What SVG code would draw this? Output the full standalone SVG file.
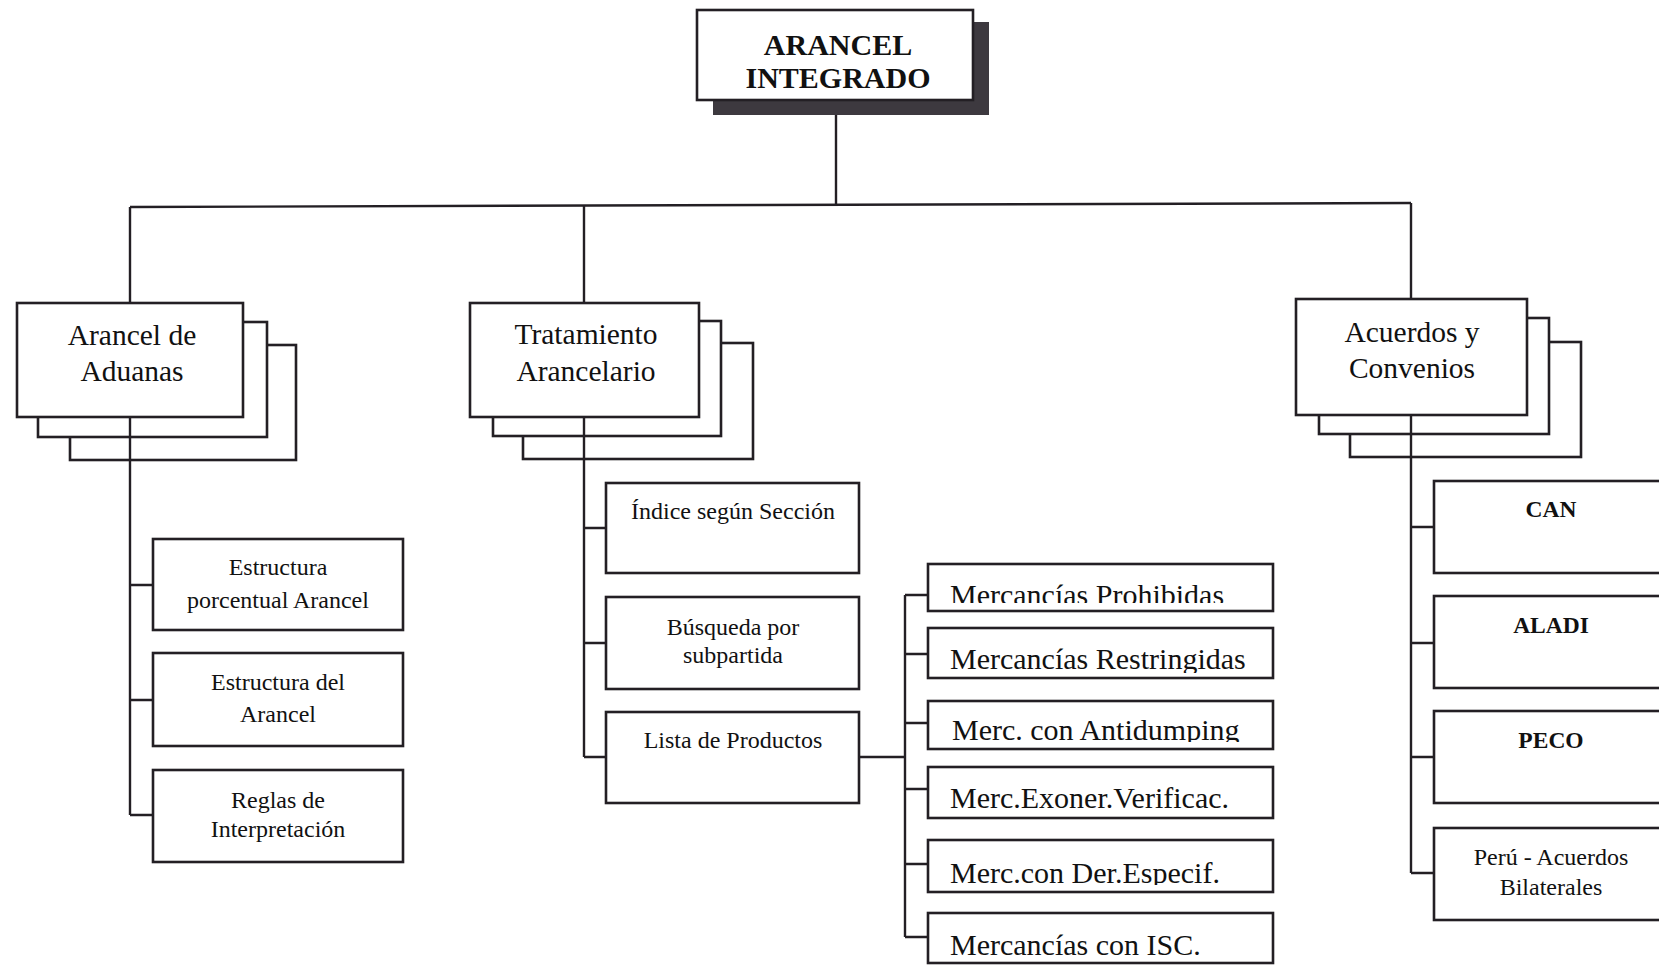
<svg xmlns="http://www.w3.org/2000/svg" width="1659" height="965" viewBox="0 0 1659 965">
<style>
.box{fill:#fff;stroke:#231f24;stroke-width:2.6}
.ln{fill:none;stroke:#231f24;stroke-width:2.4}
.t1{font-family:"Liberation Serif","Times New Roman",serif;font-size:29.5px;fill:#111;text-anchor:middle}
.t2{font-family:"Liberation Serif","Times New Roman",serif;font-size:24px;fill:#111;text-anchor:middle}
.t2b{font-family:"Liberation Serif","Times New Roman",serif;font-size:23.5px;font-weight:bold;fill:#111;text-anchor:middle}
.tm{font-family:"Liberation Serif","Times New Roman",serif;font-size:30px;fill:#111}
.tt{font-family:"Liberation Serif","Times New Roman",serif;font-size:30px;font-weight:bold;fill:#111;text-anchor:middle}
</style>
<defs>
<clipPath id="c1"><rect x="928" y="564" width="345" height="39"/></clipPath>
<clipPath id="c2"><rect x="928" y="628" width="345" height="45"/></clipPath>
<clipPath id="c3"><rect x="928" y="701" width="345" height="41"/></clipPath>
<clipPath id="c5"><rect x="928" y="840" width="345" height="45"/></clipPath>
</defs>
<rect width="1659" height="965" fill="#fff"/>

<g id="connectors">
<path class="ln" d="M836 100 V205"/>
<path class="ln" d="M130 207 L1411 203"/>
<path class="ln" d="M130 207 V303 M130 417 V815 M130 585 H153 M130 700 H153 M130 815 H153"/>
<path class="ln" d="M584 206 V303 M584 417 V757 M584 528 H606 M584 643 H606 M584 757 H606"/>
<path class="ln" d="M859 757 H905 M905 595 V937 M905 595 H928 M905 654 H928 M905 723 H928 M905 789 H928 M905 864 H928 M905 937 H928"/>
<path class="ln" d="M1411 203 V299 M1411 415 V873 M1411 527 H1434 M1411 643 H1434 M1411 757 H1434 M1411 873 H1434"/>
</g>

<g id="arancel-integrado">
<rect x="713" y="22" width="276" height="93" fill="#3d393f"/>
<rect class="box" x="697" y="10" width="276" height="90"/>
<text class="tt" x="838" y="55">ARANCEL</text>
<text class="tt" x="838" y="88">INTEGRADO</text>
</g>

<g id="arancel-aduanas">
<rect class="box" x="70" y="345" width="226" height="115"/>
<rect class="box" x="38" y="322" width="229" height="115"/>
<rect class="box" x="17" y="303" width="226" height="114"/>
<text class="t1" x="132" y="345">Arancel de</text>
<text class="t1" x="132" y="381">Aduanas</text>
</g>
<path class="ln" d="M130 417 V460"/>

<g id="tratamiento">
<rect class="box" x="523" y="343" width="230" height="116"/>
<rect class="box" x="493" y="321" width="228" height="115"/>
<rect class="box" x="470" y="303" width="229" height="114"/>
<text class="t1" x="586" y="344">Tratamiento</text>
<text class="t1" x="586" y="381">Arancelario</text>
</g>
<path class="ln" d="M584 417 V460"/>

<g id="acuerdos">
<rect class="box" x="1350" y="342" width="231" height="115"/>
<rect class="box" x="1319" y="318" width="230" height="116"/>
<rect class="box" x="1296" y="299" width="231" height="116"/>
<text class="t1" x="1412" y="342">Acuerdos y</text>
<text class="t1" x="1412" y="378">Convenios</text>
</g>
<path class="ln" d="M1411 415 V458"/>

<g id="estructura-porcentual">
<rect class="box" x="153" y="539" width="250" height="91"/>
<text class="t2" x="278" y="575">Estructura</text>
<text class="t2" x="278" y="608">porcentual Arancel</text>
</g>
<g id="estructura-arancel">
<rect class="box" x="153" y="653" width="250" height="93"/>
<text class="t2" x="278" y="690">Estructura del</text>
<text class="t2" x="278" y="722">Arancel</text>
</g>
<g id="reglas">
<rect class="box" x="153" y="770" width="250" height="92"/>
<text class="t2" x="278" y="808">Reglas de</text>
<text class="t2" x="278" y="837">Interpretación</text>
</g>

<g id="indice">
<rect class="box" x="606" y="483" width="253" height="90"/>
<text class="t2" x="733" y="519">Índice según Sección</text>
</g>
<g id="busqueda">
<rect class="box" x="606" y="597" width="253" height="92"/>
<text class="t2" x="733" y="635">Búsqueda por</text>
<text class="t2" x="733" y="663">subpartida</text>
</g>
<g id="lista">
<rect class="box" x="606" y="712" width="253" height="91"/>
<text class="t2" x="733" y="748">Lista de Productos</text>
</g>

<g id="merc-prohibidas">
<rect class="box" x="928" y="564" width="345" height="47"/>
<text class="tm" x="950" y="605" clip-path="url(#c1)">Mercancías Prohibidas</text>
</g>
<g id="merc-restringidas">
<rect class="box" x="928" y="628" width="345" height="50"/>
<text class="tm" x="950" y="669" clip-path="url(#c2)">Mercancías Restringidas</text>
</g>
<g id="merc-antidumping">
<rect class="box" x="928" y="701" width="345" height="48"/>
<text class="tm" x="952" y="740" clip-path="url(#c3)">Merc. con Antidumping</text>
</g>
<g id="merc-exoner">
<rect class="box" x="928" y="767" width="345" height="51"/>
<text class="tm" x="950" y="808">Merc.Exoner.Verificac.</text>
</g>
<g id="merc-der">
<rect class="box" x="928" y="840" width="345" height="52"/>
<text class="tm" x="950" y="883" clip-path="url(#c5)">Merc.con Der.Especif.</text>
</g>
<g id="merc-isc">
<rect class="box" x="928" y="913" width="345" height="50"/>
<text class="tm" x="950" y="955">Mercancías con ISC.</text>
</g>

<g id="can">
<rect class="box" x="1434" y="481" width="240" height="92"/>
<text class="t2b" x="1551" y="517">CAN</text>
</g>
<g id="aladi">
<rect class="box" x="1434" y="596" width="240" height="92"/>
<text class="t2b" x="1551" y="633">ALADI</text>
</g>
<g id="peco">
<rect class="box" x="1434" y="711" width="240" height="92"/>
<text class="t2b" x="1551" y="748">PECO</text>
</g>
<g id="peru">
<rect class="box" x="1434" y="828" width="240" height="92"/>
<text class="t2" x="1551" y="865">Perú - Acuerdos</text>
<text class="t2" x="1551" y="895">Bilaterales</text>
</g>
</svg>
